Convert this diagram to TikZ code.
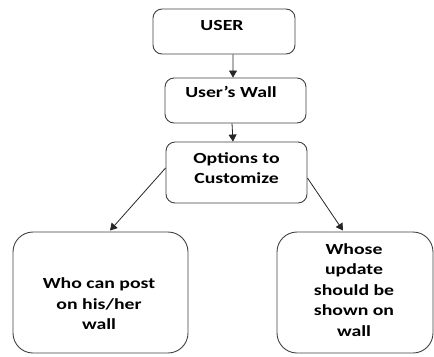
\documentclass[tikz,border=0pt]{standalone}
\usepackage{fontspec}
\setmainfont{Carlito}[FakeStretch=1.28]
\usetikzlibrary{arrows.meta}
\begin{document}
\begin{tikzpicture}[x=1bp,y=-1bp,
  box/.style={draw=black!75,line width=0.9bp,rounded corners=#1,inner sep=0pt},
  box/.default=9bp,
  txt/.style={font=\fontsize{15.5}{20.5}\selectfont\bfseries,align=center,inner sep=0pt},
  arr/.style={draw=black!85,line width=0.8bp,-{Triangle[length=7bp,width=8bp]}}]
\useasboundingbox (0,0) rectangle (434,356);
% boxes
\node[box,minimum width=142bp,minimum height=45bp] (user) at (224,31.5) {};
\node[box,minimum width=141bp,minimum height=45bp] (wall) at (235.5,100.5) {};
\node[box,minimum width=141bp,minimum height=61bp] (opt) at (236.5,172.5) {};
\node[box=20bp,minimum width=175bp,minimum height=121bp] (left) at (100.5,292.5) {};
\node[box=20bp,minimum width=156bp,minimum height=121bp] (right) at (355,292.5) {};
% texts
\node[txt] (tuser) at (222,25) {USER};
\node[txt] (twall) at (231,92) {User’s Wall};
\node[txt] (topt) at (236.5,168) {Options to\\Customize};
\node[txt] (tleft) at (99,304) {Who can post\\on his/her\\wall};
\node[txt] (tright) at (354,290) {Whose\\update\\should be\\shown on\\wall};
% connectors
\draw[arr] ([xshift=9bp]user.south) -- ([xshift=-2.5bp]wall.north);
\draw[arr] ([xshift=-3.5bp]wall.south) -- ([xshift=-3.5bp]opt.north);
\draw[arr] ([yshift=4.5bp]opt.west) -- ([xshift=9.5bp,yshift=1bp]left.north);
\draw[arr] ([yshift=-5.5bp]opt.east) -- ([xshift=-12bp,yshift=1bp]right.north);
\end{tikzpicture}
\end{document}
